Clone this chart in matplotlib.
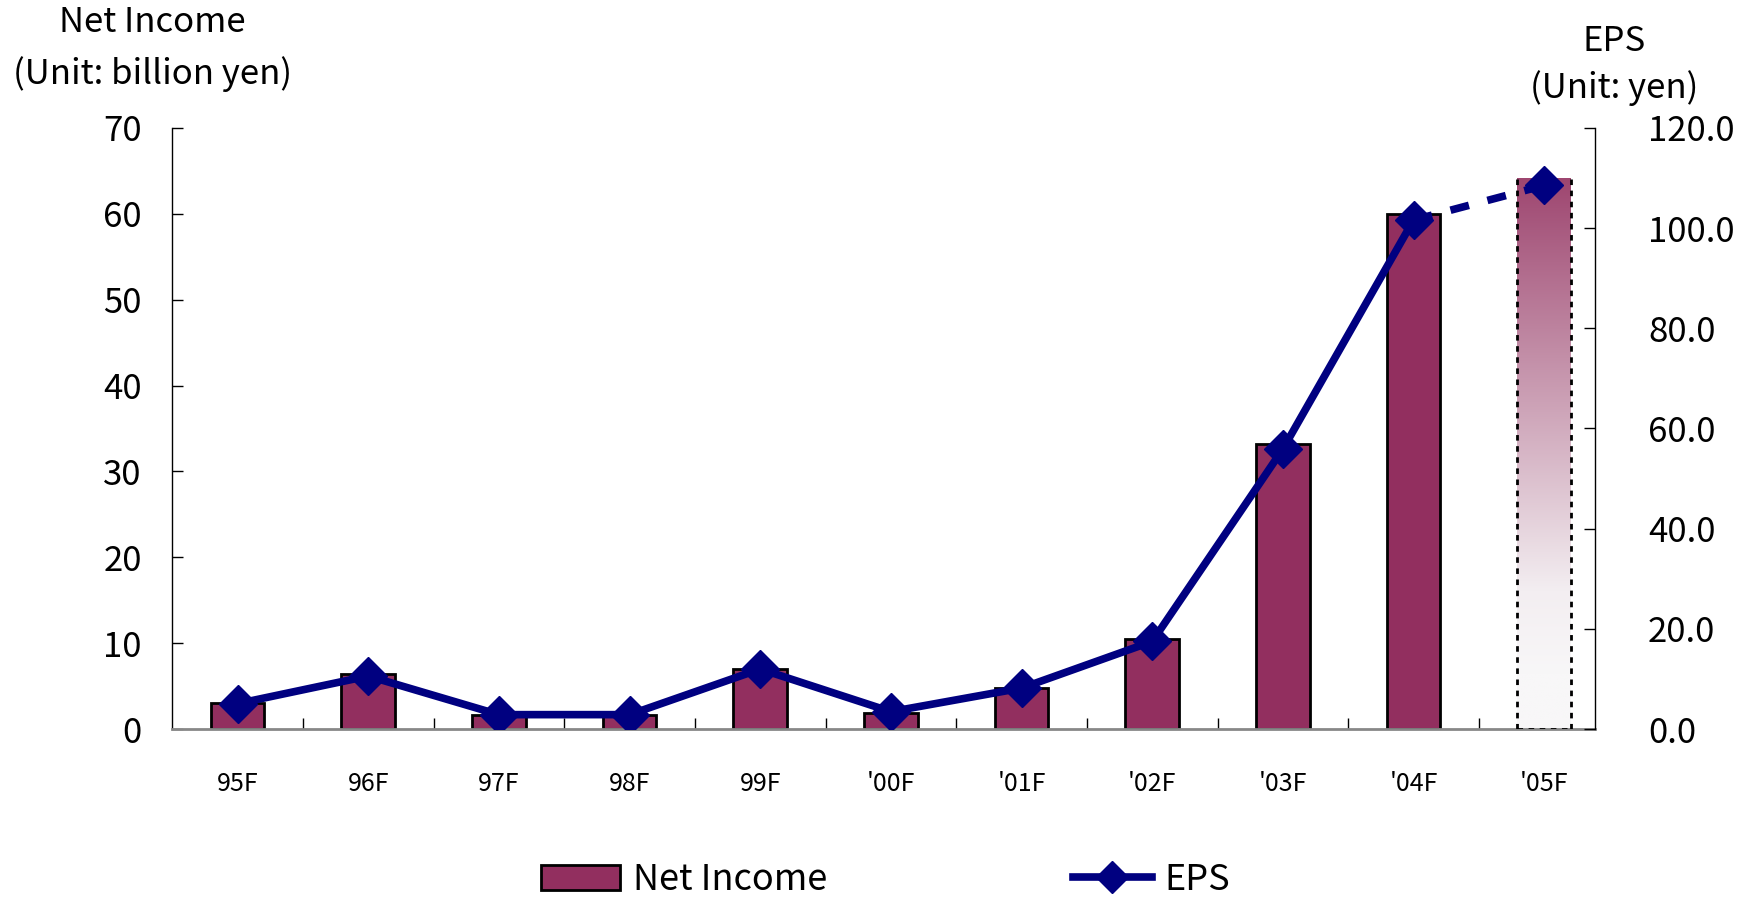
import numpy as np
import matplotlib
matplotlib.use("Agg")
import matplotlib.pyplot as plt
from matplotlib.lines import Line2D
from matplotlib.patches import Patch
from matplotlib.colors import LinearSegmentedColormap

plt.rcParams['font.family'] = ['Noto Sans CJK JP', 'DejaVu Sans']

categories = ["95F", "96F", "97F", "98F", "99F", "'00F", "'01F", "'02F", "'03F", "'04F", "'05F"]
net_income = [3.0, 6.4, 1.7, 1.7, 7.0, 1.9, 4.8, 10.5, 33.2, 60.0, 64.1]
eps = [5.1, 10.6, 2.9, 2.9, 12.0, 3.5, 8.2, 17.5, 55.9, 101.6, 108.5]
left_ticks = [0, 10, 20, 30, 40, 50, 60, 70]
right_ticks = [0, 20, 40, 60, 80, 100, 120]

bar_color = "#922F5F"
line_color = "#000080"

fig = plt.figure(figsize=(17.43, 8.98), dpi=100)
ax = fig.add_axes([0.0988, 0.188, 0.8164, 0.6697])
x = np.arange(len(categories))
w = 0.41
n_act = len(categories) - 1

ax.bar(x[:n_act], net_income[:n_act], width=w, color=bar_color,
       edgecolor="black", linewidth=2, zorder=2)

# forecast bar with gradient and dashed outline
xf = x[-1]
top = net_income[-1]
grad_cmap = LinearSegmentedColormap.from_list(
    "g", [(0, "#F8F7F8"), (0.1, "#F8F7F8"), (0.25, "#F3EEF1"), (1.0, "#9E4670")])
grad = np.linspace(0, 1, 256).reshape(-1, 1)
ax.imshow(grad, cmap=grad_cmap, aspect="auto", origin="lower",
          extent=[xf - w / 2, xf + w / 2, 0, top], zorder=2)
ax.plot([xf - w / 2, xf - w / 2], [0, top], color="black", lw=2,
        ls=(0, (2, 2)), zorder=3)
ax.plot([xf + w / 2, xf + w / 2], [0, top], color="black", lw=2,
        ls=(0, (2, 2)), zorder=3)
ax.plot([xf - w / 2, xf + w / 2], [0, 0], color="black", lw=2,
        ls=(0, (2, 2)), zorder=3)

ax.set_xlim(-0.5, 10.39)
ax.set_ylim(0, 70)
ax.set_yticks(left_ticks)
ax.set_xticks(x)
ax.set_xticklabels(categories, fontsize=18)
ax.set_xticks(np.arange(0.5, 10, 1), minor=True)
ax.tick_params(axis="x", which="major", length=0, pad=30)
ax.tick_params(axis="x", which="minor", length=8, direction="in", color="black", width=1)
ax.tick_params(axis="y", direction="in", length=8, width=1, labelsize=25, pad=22)
ax.spines["top"].set_visible(False)
ax.spines["right"].set_visible(False)
ax.spines["bottom"].set_color("#888888")
ax.spines["bottom"].set_linewidth(2)
ax.spines["left"].set_linewidth(1)

ax2 = ax.twinx()
ax2.set_ylim(0, 120)
ax2.set_yticks(right_ticks)
ax2.set_yticklabels([f"{v:.1f}" for v in right_ticks])
ax2.tick_params(axis="y", direction="in", length=8, width=1, labelsize=25, pad=38)
for s in ["top", "left", "bottom"]:
    ax2.spines[s].set_visible(False)
ax2.spines["right"].set_linewidth(1)

ax2.plot(x[:n_act], eps[:n_act], color=line_color, lw=5.5, zorder=4,
         solid_joinstyle="round")
ax2.plot(x[n_act - 1:], eps[n_act - 1:], color=line_color, lw=5.5,
         ls=(0, (2.5, 2.5)), zorder=4)
ax2.plot(x, eps, ls="none", marker="D", markersize=19, color=line_color, zorder=5)

fig.text(0.0875, 0.9755, "Net Income", ha="center", va="center", fontsize=25)
fig.text(0.0875, 0.918, "(Unit: billion yen)", ha="center", va="center", fontsize=25)
fig.text(0.926, 0.954, "EPS", ha="center", va="center", fontsize=25)
fig.text(0.926, 0.902, "(Unit: yen)", ha="center", va="center", fontsize=25)

handles = [Patch(facecolor=bar_color, edgecolor="black", linewidth=2),
           Line2D([0], [0], color=line_color, lw=5.5, marker="D", markersize=16)]
fig.legend(handles, ["Net Income", "EPS"], loc="center", bbox_to_anchor=(0.508, 0.02),
           ncol=2, frameon=False, fontsize=26, columnspacing=6.8, handlelength=2.2,
           handletextpad=0.35)

fig.savefig("out.png", dpi=100)
